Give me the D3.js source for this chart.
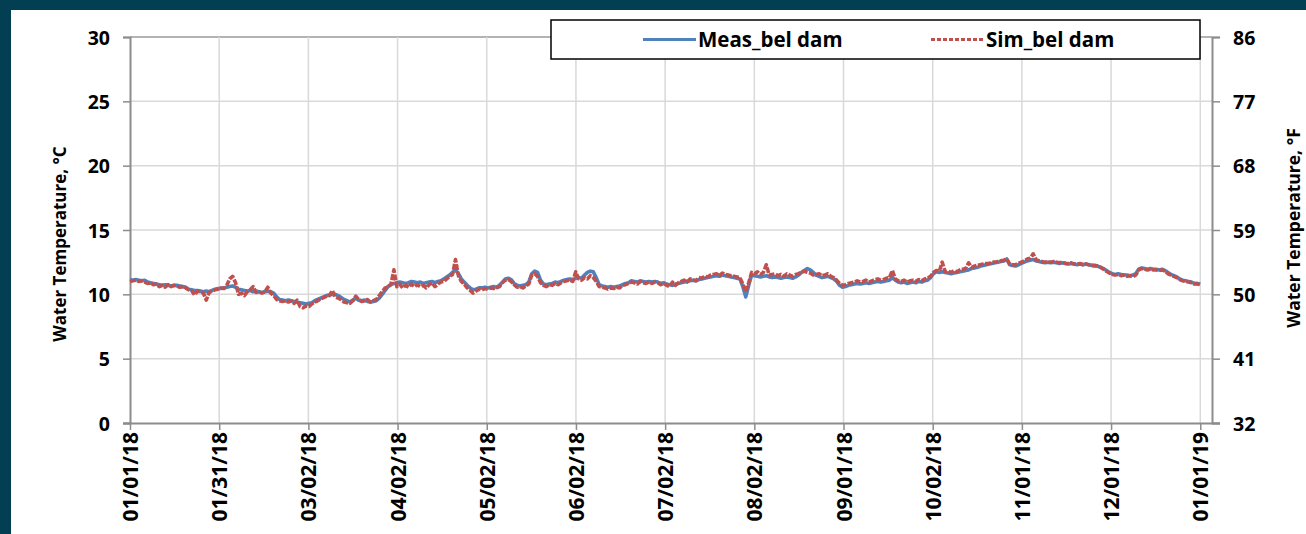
<!DOCTYPE html>
<html>
<head>
<meta charset="utf-8">
<script src="https://cdn.jsdelivr.net/npm/d3@7"></script>
<style>
  html, body { margin: 0; padding: 0; background: #ffffff; }
  svg { display: block; }
  text { font-family: "Open Sans", "Liberation Sans", sans-serif; font-weight: 700; fill: #000; }
</style>
</head>
<body>
<svg id="chart" width="1306" height="534"></svg>
<script>
// Daily water temperature below the dam, 2018 (°C), day 0 = 01/01/18
const measBelDam = [
  11.15, 11.1, 11.15, 11.1, 11.05, 11.1, 10.95, 10.9, 10.85, 10.8,
  10.75, 10.7, 10.75, 10.7, 10.65, 10.7, 10.7, 10.65, 10.6, 10.55,
  10.4, 10.35, 10.3, 10.3, 10.25, 10.2, 10.25, 10.2, 10.3, 10.4,
  10.45, 10.45, 10.5, 10.55, 10.6, 10.65, 10.55, 10.4, 10.35, 10.3,
  10.25, 10.3, 10.2, 10.25, 10.2, 10.15, 10.2, 10.25, 10.2, 10.1,
  9.8, 9.6, 9.55, 9.5, 9.55, 9.5, 9.45, 9.4, 9.35, 9.3,
  9.25, 9.3, 9.35, 9.5, 9.6, 9.7, 9.8, 9.9, 9.95, 10.0,
  10.0, 9.9, 9.75, 9.6, 9.5, 9.4, 9.55, 9.7, 9.55, 9.5,
  9.55, 9.45, 9.4, 9.45, 9.5, 9.7, 10.0, 10.3, 10.6, 10.75,
  10.85, 10.9, 10.95, 10.9, 10.85, 10.9, 11.0, 10.95, 10.9, 10.95,
  10.85, 10.9, 10.95, 11.0, 10.9, 11.0, 11.05, 11.2, 11.35, 11.5,
  11.7, 11.9, 11.6, 11.2, 10.95, 10.7, 10.5, 10.35, 10.4, 10.5,
  10.5, 10.55, 10.5, 10.55, 10.6, 10.55, 10.7, 10.95, 11.2, 11.25,
  11.15, 10.85, 10.7, 10.65, 10.7, 10.75, 10.95, 11.6, 11.8, 11.7,
  11.1, 10.8, 10.75, 10.8, 10.85, 10.95, 10.9, 11.0, 11.1, 11.15,
  11.2, 11.15, 11.25, 11.3, 11.25, 11.5, 11.7, 11.8, 11.75, 11.3,
  10.75, 10.65, 10.6, 10.55, 10.6, 10.55, 10.6, 10.65, 10.75, 10.85,
  10.9, 11.05, 11.0, 10.95, 11.05, 11.0, 10.95, 11.0, 10.95, 11.0,
  10.95, 10.85, 10.9, 10.8, 10.75, 10.7, 10.8, 10.85, 10.9, 10.95,
  11.0, 11.05, 11.1, 11.05, 11.15, 11.2, 11.25, 11.3, 11.35, 11.4,
  11.45, 11.4, 11.5, 11.45, 11.4, 11.35, 11.3, 11.25, 11.2, 10.6,
  9.8, 10.7, 11.5, 11.45, 11.4, 11.35, 11.4, 11.45, 11.35, 11.3,
  11.35, 11.3, 11.25, 11.3, 11.35, 11.3, 11.25, 11.35, 11.5, 11.7,
  11.85, 12.0, 11.9, 11.7, 11.5, 11.4, 11.3, 11.35, 11.4, 11.3,
  11.2, 11.0, 10.7, 10.55, 10.6, 10.7, 10.75, 10.8, 10.85, 10.8,
  10.85, 10.9, 10.85, 10.9, 10.95, 11.0, 10.95, 11.0, 11.05, 11.1,
  11.3, 11.1, 10.95, 10.9, 10.95, 10.85, 10.9, 10.95, 10.9, 11.0,
  10.95, 11.05, 11.1, 11.3, 11.6, 11.75, 11.7, 11.75, 11.7, 11.65,
  11.6, 11.65, 11.7, 11.75, 11.8, 11.85, 11.9, 12.0, 12.05, 12.1,
  12.2, 12.25, 12.3, 12.35, 12.4, 12.45, 12.5, 12.55, 12.6, 12.75,
  12.3, 12.25, 12.2, 12.3, 12.4, 12.5, 12.6, 12.65, 12.7, 12.6,
  12.55, 12.5, 12.45, 12.5, 12.45, 12.5, 12.45, 12.4, 12.45, 12.4,
  12.35, 12.4, 12.35, 12.3, 12.35, 12.3, 12.35, 12.3, 12.25, 12.2,
  12.2, 12.1, 12.0, 11.85, 11.7, 11.6, 11.55, 11.6, 11.55, 11.5,
  11.5, 11.45, 11.5, 11.6, 11.95, 12.05, 12.0, 11.95, 12.0, 11.95,
  11.95, 11.9, 11.95, 11.85, 11.7, 11.55, 11.45, 11.35, 11.2, 11.1,
  11.05, 11.0, 10.95, 10.85, 10.85, 10.8
];

const simBelDam = [
  11.0, 11.05, 11.1, 11.0, 11.05, 10.95, 10.85, 10.9, 10.75, 10.8,
  10.6, 10.7, 10.55, 10.75, 10.6, 10.7, 10.65, 10.55, 10.6, 10.5,
  10.35, 10.3, 9.95, 10.25, 10.2, 10.1, 9.55, 10.15, 10.25, 10.35,
  10.4, 10.5, 10.45, 10.7, 11.2, 11.4, 10.9, 10.0, 10.1, 9.9,
  10.2, 10.35, 10.6, 10.15, 10.2, 10.1, 10.2, 10.55, 10.1, 9.9,
  9.6, 9.5, 9.45, 9.5, 9.4, 9.5, 9.3, 9.55, 9.05, 8.95,
  9.1, 9.05, 9.25, 9.4, 9.5, 9.65, 9.75, 9.85, 9.9, 10.3,
  9.8, 9.7, 9.6, 9.4, 9.35, 9.3, 9.5, 9.85, 9.6, 9.45,
  9.5, 9.6, 9.4, 9.5, 9.6, 9.9, 10.2, 10.5, 10.55, 10.8,
  11.9, 10.6, 10.8, 10.5, 10.7, 10.55, 10.8, 10.6, 10.75, 10.6,
  10.7, 10.5, 10.75, 10.9, 10.6, 10.8, 10.95, 11.0, 11.2, 11.4,
  11.55, 12.7, 11.45, 11.0, 10.8, 10.5, 10.3, 10.1, 10.25, 10.4,
  10.35, 10.45, 10.4, 10.5, 10.45, 10.5, 10.6, 10.9, 11.1, 11.15,
  11.0, 10.75, 10.55, 10.6, 10.5, 10.65, 10.8, 11.5, 11.6, 11.4,
  10.9, 10.7, 10.6, 10.75, 10.7, 10.85, 10.75, 10.9, 11.0, 11.05,
  11.1, 11.0, 11.75, 11.2, 11.1, 11.3, 11.2, 11.45, 11.3, 11.0,
  10.6, 10.55, 10.5, 10.4, 10.5, 10.45, 10.55, 10.5, 10.7, 10.75,
  10.85, 10.95, 10.9, 10.8, 11.0, 10.9, 10.85, 10.95, 10.85, 10.95,
  10.9, 10.75, 10.85, 10.7, 10.6, 10.95, 10.7, 10.9, 11.0, 11.1,
  10.95, 11.2, 11.15, 11.05, 11.3, 11.25, 11.4, 11.35, 11.5, 11.55,
  11.6, 11.45, 11.65, 11.55, 11.5, 11.45, 11.4, 11.35, 11.3, 10.8,
  10.2, 10.9, 11.7, 11.6, 11.75, 11.55, 11.7, 12.3, 11.5, 11.55,
  11.6, 11.45, 11.55, 11.4, 11.6, 11.5, 11.4, 11.55, 11.6, 11.75,
  11.8, 11.7, 11.65, 11.5, 11.55, 11.6, 11.45, 11.5, 11.6, 11.4,
  11.3, 11.1, 10.85, 10.7, 10.75, 10.85, 10.9, 10.95, 11.05, 10.95,
  11.0, 11.1, 10.95, 11.05, 11.15, 11.2, 11.1, 11.15, 11.25, 11.3,
  11.85, 11.2, 11.05, 11.0, 11.1, 10.95, 11.05, 11.1, 11.0, 11.15,
  11.05, 11.2, 11.25, 11.4, 11.7, 11.85, 11.8, 12.5, 11.75, 11.8,
  11.7, 11.85, 11.75, 11.9, 11.95, 12.0, 12.45, 12.1, 12.2, 12.25,
  12.3, 12.35, 12.4, 12.4, 12.5, 12.5, 12.55, 12.6, 12.65, 12.75,
  12.35, 12.3, 12.3, 12.4, 12.5, 12.6, 12.75, 12.8, 13.15, 12.7,
  12.6, 12.55, 12.5, 12.55, 12.5, 12.55, 12.5, 12.45, 12.5, 12.4,
  12.4, 12.45, 12.35, 12.35, 12.4, 12.3, 12.35, 12.3, 12.25, 12.25,
  12.2, 12.1, 11.95, 11.8, 11.65, 11.55, 11.5, 11.55, 11.45, 11.5,
  11.4, 11.45, 11.35, 11.5, 11.9, 12.0, 11.95, 11.9, 11.95, 11.9,
  11.9, 11.85, 11.9, 11.8, 11.6, 11.5, 11.4, 11.3, 11.15, 11.05,
  11.0, 10.95, 10.9, 10.8, 10.8, 10.75
];

const seriesNames = ["Meas_bel dam", "Sim_bel dam"];
const xTickLabels = ["01/01/18", "01/31/18", "03/02/18", "04/02/18", "05/02/18", "06/02/18",
  "07/02/18", "08/02/18", "09/01/18", "10/02/18", "11/01/18", "12/01/18", "01/01/19"];
const yTicksC = [0, 5, 10, 15, 20, 25, 30];
const yTicksF = [32, 41, 50, 59, 68, 77, 86];

const svg = d3.select("#chart");
const W = 1306, H = 534;

// frame band on the top and left edges
svg.append("rect").attr("x", 0).attr("y", 0).attr("width", W).attr("height", H).attr("fill", "#033f53");
svg.append("rect").attr("x", 11).attr("y", 10).attr("width", W - 11).attr("height", H - 10).attr("fill", "#ffffff");

const plot = { left: 130, right: 1212, top: 37, bottom: 423 };
const yearDays = 365;
const x = d3.scaleLinear().domain([0, 369]).range([plot.left, plot.right]);
const y = d3.scaleLinear().domain([0, 30]).range([plot.bottom, plot.top]);
const yF = d3.scaleLinear().domain([32, 86]).range([plot.bottom, plot.top]);
const xTickDays = xTickLabels.map((_, i) => i * yearDays / 12);

// gridlines
const grid = svg.append("g");
grid.selectAll("line.h").data(yTicksC.filter(v => v > 0)).join("line")
  .attr("x1", plot.left).attr("x2", plot.right)
  .attr("y1", d => y(d)).attr("y2", d => y(d))
  .attr("stroke", d => d === 30 ? "#9a9a9a" : "#d9d9d9").attr("stroke-width", 1.5);
grid.selectAll("line.v").data(xTickDays.slice(1)).join("line")
  .attr("x1", d => x(d)).attr("x2", d => x(d))
  .attr("y1", plot.top).attr("y2", plot.bottom)
  .attr("stroke", "#d9d9d9").attr("stroke-width", 1.5);

// axes
const axisColor = "#8c8c8c";
const leftAxis = svg.append("g").attr("transform", `translate(${plot.left},0)`)
  .call(d3.axisLeft(y).tickValues(yTicksC).tickSize(7).tickPadding(13).tickFormat(d3.format("d")));
const rightAxis = svg.append("g").attr("transform", `translate(${plot.right},0)`)
  .call(d3.axisRight(yF).tickValues(yTicksF).tickSize(8).tickPadding(13).tickFormat(d3.format("d")));
const bottomAxis = svg.append("g").attr("transform", `translate(0,${plot.bottom})`)
  .call(d3.axisBottom(x).tickValues(xTickDays).tickSize(7).tickFormat((d, i) => xTickLabels[i]));

[leftAxis, rightAxis, bottomAxis].forEach(g => {
  g.select(".domain").attr("stroke", axisColor).attr("stroke-width", 2);
  g.selectAll(".tick line").attr("stroke", axisColor).attr("stroke-width", 1.5);
  g.selectAll(".tick text").attr("font-size", 19.5).attr("font-family", null).attr("fill", "#000");
});
bottomAxis.select(".domain").attr("d", `M${plot.left - 7},0.5H${plot.right + 8}`);
leftAxis.selectAll(".tick text").attr("dy", "0.36em");
rightAxis.selectAll(".tick text").attr("dy", "0.36em");
bottomAxis.selectAll(".tick text")
  .attr("font-size", 21)
  .attr("transform", "rotate(-90)")
  .attr("text-anchor", "end")
  .attr("x", -9).attr("y", 0).attr("dy", "0.36em");

// series
const line = d3.line().x((d, i) => x(i)).y(d => y(d));
svg.append("path").datum(measBelDam).attr("d", line)
  .attr("fill", "none").attr("stroke", "#4f81bd").attr("stroke-width", 3.6).attr("stroke-linejoin", "round");
svg.append("path").datum(simBelDam).attr("d", line)
  .attr("fill", "none").attr("stroke", "#c0504d").attr("stroke-width", 3.6)
  .attr("stroke-dasharray", "6,1.5").attr("stroke-linejoin", "round");

// axis titles
svg.append("text").attr("transform", "translate(66,244) rotate(-90)")
  .attr("text-anchor", "middle").attr("font-size", 17).text("Water Temperature, °C");
svg.append("text").attr("transform", "translate(1300,228) rotate(-90)")
  .attr("text-anchor", "middle").attr("font-size", 17.5).text("Water Temperature, °F");

// legend
const legend = svg.append("g");
legend.append("rect").attr("x", 551).attr("y", 20).attr("width", 649).attr("height", 39)
  .attr("fill", "#fff").attr("stroke", "#000").attr("stroke-width", 1.5);
const legendItems = [
  { name: seriesNames[0], color: "#4f81bd", dash: null, x0: 643 },
  { name: seriesNames[1], color: "#c0504d", dash: "4,2", x0: 931 }
];
legendItems.forEach(it => {
  legend.append("line").attr("x1", it.x0).attr("x2", it.x0 + 53).attr("y1", 39.5).attr("y2", 39.5)
    .attr("stroke", it.color).attr("stroke-width", 3).attr("stroke-dasharray", it.dash);
  legend.append("text").attr("x", it.x0 + 55).attr("y", 39.5).attr("dy", "0.36em")
    .attr("font-size", 20.5).text(it.name);
});
</script>
</body>
</html>
